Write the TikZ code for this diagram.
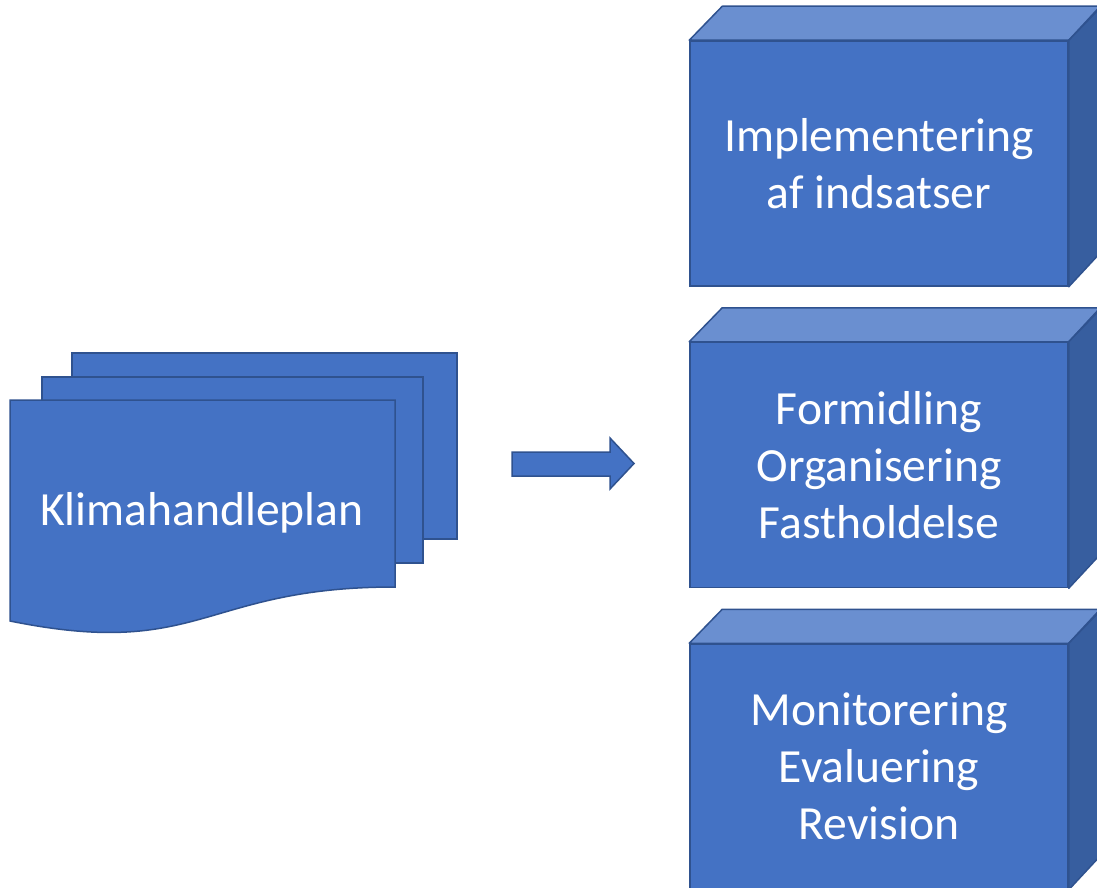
\documentclass[tikz,border=0pt]{standalone}
\usepackage{fontspec}
\setmainfont{Carlito}
\definecolor{boxblue}{HTML}{4472C4}
\definecolor{topblue}{HTML}{6A8FD0}
\definecolor{sideblue}{HTML}{375E9F}
\definecolor{edgeblue}{HTML}{2F528F}

\begin{document}
\begin{tikzpicture}[x=1pt, y=-1pt,
  every node/.style={text=white, font=\fontsize{47.6}{57}\selectfont, align=center},
  face/.style={draw=edgeblue, line width=1.5pt, fill=boxblue, minimum width=378pt, minimum height=245pt, inner sep=0pt},
  topface/.style={draw=edgeblue, line width=1.5pt, fill=topblue, line join=round},
  sideface/.style={draw=edgeblue, line width=1.5pt, fill=sideblue, line join=round},
  sheet/.style={draw=edgeblue, line width=1.5pt, fill=boxblue}]
\clip (0,0) rectangle (1097,888);

% stacked sheets
\filldraw[sheet] (72,353) rectangle (457,539); % back
\filldraw[sheet] (42,377) rectangle (423,563); % middle
\filldraw[sheet] (10,400) -- (395,400) -- (395,587)
  .. controls (202,587) and (202,660) .. (10,621) -- cycle; % front
\node (plan) at (202,513) {Klimahandleplan};

% block arrow
\filldraw[sheet] (512,452) -- (610,452) -- (610,438) -- (634,463.5)
  -- (610,489) -- (610,476) -- (512,476) -- cycle;

% boxes
\node[face] (impl) at (879,163.5) {Implementering\\af indsatser};
\node[face] (form) at (879,465) {Formidling\\Organisering\\Fastholdelse};
\node[face] (moni) at (879,766.5) {Monitorering\\Evaluering\\Revision};
\foreach \n in {impl,form,moni}{
  \filldraw[topface] (\n.north west) -- ++(33,-34) -- ++(378,0) -- (\n.north east) -- cycle;
  \filldraw[sideface] (\n.north east) -- ++(33,-34) -- ++(0,245) -- (\n.south east) -- cycle;
}
\end{tikzpicture}
\end{document}
